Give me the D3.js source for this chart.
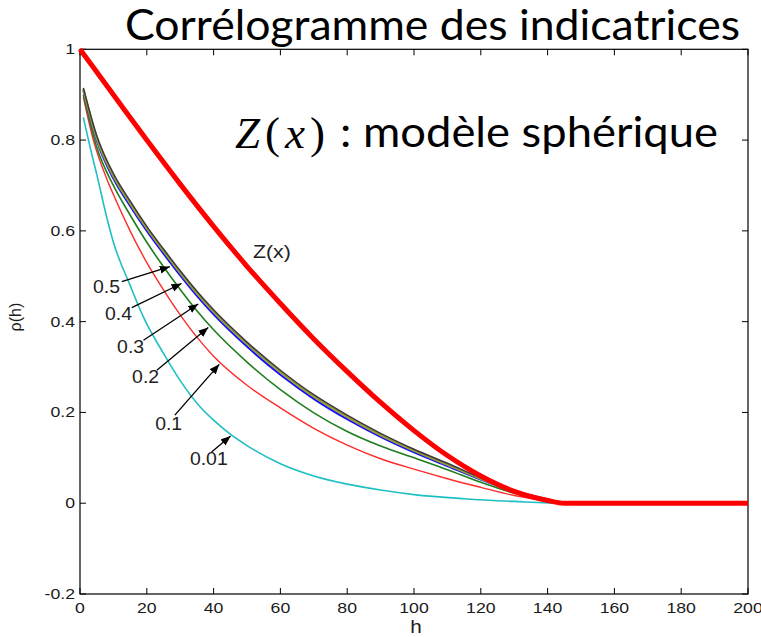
<!DOCTYPE html>
<html><head><meta charset="utf-8">
<script src="https://cdn.jsdelivr.net/npm/d3@7"></script>
<style>body{margin:0;background:#fff}</style>
</head><body>
<svg id="c" width="761" height="637"></svg>
<script>
// ---------- data ----------
const hTicks = [0, 20, 40, 60, 80, 100, 120, 140, 160, 180, 200];
const rhoTicks = [-0.2, 0, 0.2, 0.4, 0.6, 0.8, 1];
const rhoTickLabels = ["-0.2", "0", "0.2", "0.4", "0.6", "0.8", "1"];

// Z(x) : spherical model correlogram
const zH   = [0, 10, 20, 30, 40, 50, 60, 70, 80, 90, 100, 110, 120, 130, 140, 145, 200];
const zRho = [1, 0.90, 0.80, 0.703, 0.61, 0.522, 0.44, 0.362, 0.29, 0.222, 0.16, 0.105, 0.06, 0.026, 0.006, 0, 0];

// indicator correlograms (thresholds)
const thresholds = ["0.01", "0.1", "0.2", "0.3", "0.4", "0.5"];
const h001   = [1, 3, 5, 8, 10, 15, 19, 25, 30, 36, 40, 45, 50, 60, 70, 80, 90, 100, 115, 130, 145, 200];
const rho001 = [0.85, 0.785, 0.725, 0.63, 0.575, 0.48, 0.41, 0.33, 0.27, 0.212, 0.183, 0.152, 0.127, 0.087, 0.06, 0.042, 0.029, 0.019, 0.01, 0.004, 0, 0];
const h01    = [1, 4, 8, 10, 15, 20, 25, 30, 35, 40, 50, 60, 70, 80, 90, 100, 110, 120, 130, 140, 145, 200];
const rho01  = [0.895, 0.80, 0.715, 0.68, 0.60, 0.53, 0.47, 0.415, 0.366, 0.324, 0.26, 0.21, 0.165, 0.128, 0.098, 0.075, 0.054, 0.035, 0.017, 0.005, 0, 0];
const h02    = [1, 5, 10, 15, 20, 25, 30, 35, 40, 50, 60, 70, 80, 90, 100, 110, 120, 130, 140, 145, 200];
const rho02  = [0.90, 0.785, 0.70, 0.635, 0.575, 0.521, 0.471, 0.424, 0.382, 0.311, 0.25, 0.199, 0.158, 0.126, 0.10, 0.074, 0.046, 0.022, 0.006, 0, 0];
const h03    = [1, 5, 10, 15, 20, 25, 30, 35, 40, 50, 60, 70, 80, 90, 100, 110, 120, 130, 140, 145, 200];
const rho03  = [0.91, 0.80, 0.715, 0.655, 0.60, 0.55, 0.502, 0.457, 0.416, 0.345, 0.283, 0.23, 0.185, 0.146, 0.112, 0.082, 0.052, 0.026, 0.008, 0, 0];
const h04    = [1, 5, 10, 15, 20, 25, 30, 35, 40, 50, 60, 70, 80, 90, 100, 110, 120, 130, 140, 145, 200];
const rho04  = [0.912, 0.805, 0.721, 0.661, 0.606, 0.556, 0.508, 0.463, 0.422, 0.351, 0.289, 0.235, 0.19, 0.15, 0.116, 0.085, 0.054, 0.027, 0.008, 0, 0];
const h05    = [1, 5, 10, 15, 20, 25, 30, 35, 40, 50, 60, 70, 80, 90, 100, 110, 120, 130, 140, 145, 200];
const rho05  = [0.915, 0.81, 0.726, 0.666, 0.61, 0.56, 0.512, 0.467, 0.426, 0.355, 0.293, 0.239, 0.194, 0.154, 0.119, 0.088, 0.056, 0.028, 0.009, 0, 0];

const seriesH   = [h001, h01, h02, h03, h04, h05];
const seriesRho = [rho001, rho01, rho02, rho03, rho04, rho05];

// annotations (data units)
const annText    = ["0.5", "0.4", "0.3", "0.2", "0.1", "0.01"];
const annH       = [3.9, 7.5, 11.1, 15.6, 22.5, 32.9];
const annRho     = [0.463, 0.403, 0.331, 0.265, 0.161, 0.084];
const arrFromH   = [12.5, 15.5, 19.0, 23.0, 28.4, 39.4];
const arrFromRho = [0.488, 0.431, 0.359, 0.293, 0.194, 0.113];
const arrToH     = [26.9, 30.4, 35.4, 38.4, 41.7, 45.1];
const arrToRho   = [0.521, 0.484, 0.439, 0.387, 0.306, 0.148];
const zLabelH = 51.8, zLabelRho = 0.54;

// ---------- styles ----------
const seriesColor = ["#1fbfc4", "#ff2a2a", "#1e7e1e", "#1010ff", "#9a9a3a", "#3a3a3a"];
const seriesWidth = [1.6, 1.4, 1.6, 2.0, 2.6, 1.5];

const svg = d3.select("#c");
const x = d3.scaleLinear().domain([0, 200]).range([80, 748]);
const y = d3.scaleLinear().domain([-0.2, 1]).range([594, 49.3]);
const mfont = "'Liberation Sans', Arial, sans-serif";

// frame
svg.append("rect").attr("x", x(0)).attr("y", y(1)).attr("width", x(200) - x(0)).attr("height", y(-0.2) - y(1))
  .attr("fill", "none").attr("stroke", "#000").attr("stroke-width", 1.2);

// ticks (inward, all four sides)
const tl = 6;
hTicks.forEach(t => {
  svg.append("line").attr("x1", x(t)).attr("x2", x(t)).attr("y1", y(-0.2)).attr("y2", y(-0.2) - tl).attr("stroke", "#000");
  svg.append("line").attr("x1", x(t)).attr("x2", x(t)).attr("y1", y(1)).attr("y2", y(1) + tl).attr("stroke", "#000");
  svg.append("text").attr("transform", `translate(${x(t)},${y(-0.2) + 19}) scale(1.22,1)`)
    .attr("text-anchor", "middle").attr("font-family", mfont).attr("font-size", 14.5).attr("fill", "#1a1a1a").text(t);
});
rhoTicks.forEach((t, i) => {
  svg.append("line").attr("x1", x(0)).attr("x2", x(0) + tl).attr("y1", y(t)).attr("y2", y(t)).attr("stroke", "#000");
  svg.append("line").attr("x1", x(200)).attr("x2", x(200) - tl).attr("y1", y(t)).attr("y2", y(t)).attr("stroke", "#000");
  svg.append("text").attr("transform", `translate(${x(0) - 5},${y(t) + 5}) scale(1.22,1)`)
    .attr("text-anchor", "end").attr("font-family", mfont).attr("font-size", 14.5).attr("fill", "#1a1a1a").text(rhoTickLabels[i]);
});

// axis labels
svg.append("text").attr("transform", `translate(${(x(0) + x(200)) / 2 + 2},633) scale(1.15,1)`)
  .attr("text-anchor", "middle").attr("font-family", mfont).attr("font-size", 18).attr("fill", "#1a1a1a").text("h");
svg.append("text").attr("transform", `translate(21,${y(0.41)}) rotate(-90)`)
  .attr("text-anchor", "middle").attr("font-family", mfont).attr("font-size", 16).attr("fill", "#1a1a1a").text("ρ(h)");

// curves
const line = d3.line().x(d => x(d[0])).y(d => y(d[1])).curve(d3.curveMonotoneX);
seriesH.forEach((hs, i) => {
  const pts = hs.map((h, j) => [h, seriesRho[i][j]]);
  svg.append("path").attr("d", line(pts)).attr("fill", "none")
    .attr("stroke", seriesColor[i]).attr("stroke-width", seriesWidth[i]).attr("stroke-linejoin", "round");
});
svg.append("path").attr("d", line(zH.map((h, j) => [h, zRho[j]]))).attr("fill", "none")
  .attr("stroke", "#ff0000").attr("stroke-width", 5).attr("stroke-linejoin", "round");

// arrows
const defs = svg.append("defs");
defs.append("marker").attr("id", "ah").attr("markerUnits", "userSpaceOnUse")
  .attr("markerWidth", 12).attr("markerHeight", 10).attr("refX", 10).attr("refY", 4)
  .attr("orient", "auto").append("path").attr("d", "M0,0L10,4L0,8Z").attr("fill", "#000");
annText.forEach((t, i) => {
  svg.append("line").attr("x1", x(arrFromH[i])).attr("y1", y(arrFromRho[i]))
    .attr("x2", x(arrToH[i])).attr("y2", y(arrToRho[i]))
    .attr("stroke", "#000").attr("stroke-width", 1.3).attr("marker-end", "url(#ah)");
  svg.append("text").attr("transform", `translate(${x(annH[i])},${y(annRho[i])}) scale(1.08,1)`)
    .attr("font-family", mfont).attr("font-size", 18).attr("fill", "#222").text(t);
});
svg.append("text").attr("transform", `translate(${x(zLabelH)},${y(zLabelRho)}) scale(1.12,1)`)
  .attr("font-family", mfont).attr("font-size", 19).attr("fill", "#222").text("Z(x)");

// title & subtitle
svg.append("text").attr("x", 125).attr("y", 40).attr("textLength", 615).attr("lengthAdjust", "spacingAndGlyphs")
  .attr("font-family", "Lato, 'Open Sans', sans-serif").attr("font-size", 42).attr("fill", "#000")
  .text("Corrélogramme des indicatrices");
const m = svg.append("text").attr("x", 235).attr("y", 148).attr("textLength", 90).attr("lengthAdjust", "spacing")
  .attr("font-family", "'Liberation Serif', 'DejaVu Serif', serif").attr("font-size", 45).attr("fill", "#000");
m.append("tspan").attr("font-style", "italic").text("Z");
m.append("tspan").text("(");
m.append("tspan").attr("font-style", "italic").text("x");
m.append("tspan").text(")");
svg.append("text").attr("x", 340).attr("y", 147).attr("textLength", 378).attr("lengthAdjust", "spacingAndGlyphs")
  .attr("font-family", "Lato, 'Open Sans', sans-serif").attr("font-size", 42).attr("fill", "#000")
  .text(": modèle sphérique");
</script></body></html>
